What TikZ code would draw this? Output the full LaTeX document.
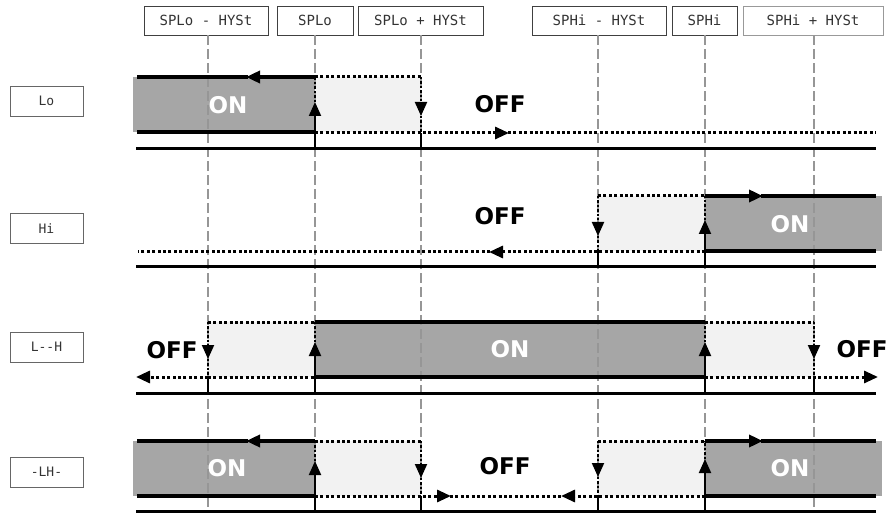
\documentclass[tikz,border=0pt]{standalone}
\usepackage{fontspec}
\newfontfamily\segfont{DejaVu Sans Mono}
\newfontfamily\stfont{DejaVu Sans}
\usetikzlibrary{arrows.meta}
\definecolor{ongray}{RGB}{166,166,166}
\definecolor{offgray}{RGB}{242,242,242}
\definecolor{guidegray}{RGB}{150,150,150}
\tikzset{
  arrtip/.style={-{Triangle[length=14pt,width=12pt]}},
  thickline/.style={line width=3.4pt},
  dotline/.style={line width=3pt, dash pattern=on 3pt off 2.4pt},
  axisline/.style={line width=3pt},
  vline/.style={line width=2pt},
  vdot/.style={line width=2pt, dash pattern=on 2.4pt off 2pt},
  guide/.style={guidegray, line width=1.1pt, dash pattern=on 10pt off 4pt},
  onfill/.style={fill=ongray},
  offfill/.style={fill=offgray},
  hdrbox/.style={draw=black!75, line width=0.9pt, minimum height=29pt, inner sep=0pt, font=\segfont\fontsize{14}{14}\selectfont, text=black!80},
  sidebox/.style={draw=black!60, line width=0.9pt, minimum width=73pt, minimum height=30pt, inner sep=0pt, font=\segfont\fontsize{13}{13}\selectfont, text=black!80},
  ontext/.style={font=\stfont\bfseries\fontsize{23}{23}\selectfont, text=white},
  offtext/.style={font=\stfont\bfseries\fontsize{23}{23}\selectfont, text=black},
}
\begin{document}
\begin{tikzpicture}[x=1pt,y=-1pt]
\useasboundingbox (0,0) rectangle (892,513);
% header boxes
\node[hdrbox, minimum width=124pt] (h1) at (206,20.5) {SPLo - HYSt};
\node[hdrbox, minimum width=76pt] (h2) at (315,20.5) {SPLo};
\node[hdrbox, minimum width=125pt] (h3) at (420.5,20.5) {SPLo + HYSt};
\node[hdrbox, minimum width=134pt] (h4) at (599,20.5) {SPHi - HYSt};
\node[hdrbox, minimum width=65pt] (h5) at (704.5,20.5) {SPHi};
\node[hdrbox, minimum width=140pt, draw=black!40] (h6) at (813,20.5) {SPHi + HYSt};
% side labels
\node[sidebox] (lLo) at (46.5,101) {Lo};
\node[sidebox] (lHi) at (46.5,228.5) {Hi};
\node[sidebox] (lLH) at (46.5,347) {L--H};
\node[sidebox] (lDLH) at (46.5,472) {-LH-};

% ---------- fills ----------
\fill[onfill] (133,77) rectangle (315,132);
\fill[offfill] (315,77) rectangle (421,132);
\fill[offfill] (598,196) rectangle (705,251);
\fill[onfill] (705,196) rectangle (882,251);
\fill[offfill] (208,322) rectangle (315,377);
\fill[onfill] (315,322) rectangle (705,377);
\fill[offfill] (705,322) rectangle (814,377);
\fill[onfill] (133,441) rectangle (315,496);
\fill[offfill] (315,441) rectangle (421,496);
\fill[offfill] (598,441) rectangle (705,496);
\fill[onfill] (705,441) rectangle (882,496);

% ---------- state texts ----------
\node[ontext] (on1) at (228,105) {ON};
\node[offtext] (off1) at (500,104) {OFF};
\node[offtext] (off2) at (500,216) {OFF};
\node[ontext] (on2) at (790,224) {ON};
\node[offtext] (off3a) at (172,350) {OFF};
\node[ontext] (on3) at (510,349) {ON};
\node[offtext] (off3b) at (862,349) {OFF};
\node[ontext] (on4a) at (227,468) {ON};
\node[offtext] (off4) at (505,466) {OFF};
\node[ontext] (on4b) at (790,468) {ON};

% guide lines
\foreach \gx/\hn in {208/h1,315/h2,421/h3,598/h4,705/h5,814/h6}
  \draw[guide] (\hn.south -| \gx,0) -- (\gx,513);

% ---------- Row 1: Lo ----------
\draw[thickline, arrtip] (315,77) -- (246,77);
\draw[thickline] (248,77) -- (137,77);
\draw[dotline] (315,77) -- (421,77);
\draw[thickline] (137,132) -- (315,132);
\draw[dotline, arrtip] (315,133) -- (509,133);
\draw[dotline] (508,133) -- (876,133);
\draw[axisline] (136,149) -- (876,149);
\draw[vline, arrtip] (315,149) -- (315,102);
\draw[vdot] (315,102) -- (315,77);
\draw[vdot, arrtip] (421,77) -- (421,116);
\draw[vdot] (421,116) -- (421,133);
\draw[vline] (421,133) -- (421,149);

% ---------- Row 2: Hi ----------
\draw[dotline] (598,196) -- (705,196);
\draw[thickline, arrtip] (705,196) -- (763,196);
\draw[thickline] (761,196) -- (876,196);
\draw[thickline] (705,251) -- (876,251);
\draw[dotline, arrtip] (705,252) -- (489,252);
\draw[dotline] (490,252) -- (138,252);
\draw[axisline] (136,267) -- (876,267);
\draw[vdot, arrtip] (598,196) -- (598,236);
\draw[vdot] (598,236) -- (598,252);
\draw[vline] (598,252) -- (598,267);
\draw[vline, arrtip] (705,267) -- (705,220);
\draw[vdot] (705,220) -- (705,196);

% ---------- Row 3: L--H ----------
\draw[dotline] (208,322) -- (315,322);
\draw[thickline] (315,322) -- (705,322);
\draw[dotline] (705,322) -- (814,322);
\draw[dotline, arrtip] (208,377) -- (136,377);
\draw[dotline] (208,377) -- (315,377);
\draw[thickline] (315,377) -- (705,377);
\draw[dotline, arrtip] (705,377) -- (878,377);
\draw[axisline] (136,393) -- (876,393);
\draw[vdot, arrtip] (208,322) -- (208,359);
\draw[vdot] (208,359) -- (208,377);
\draw[vline] (208,377) -- (208,393);
\draw[vline, arrtip] (315,393) -- (315,342);
\draw[vdot] (315,342) -- (315,322);
\draw[vline, arrtip] (705,393) -- (705,342);
\draw[vdot] (705,342) -- (705,322);
\draw[vdot, arrtip] (814,322) -- (814,359);
\draw[vdot] (814,359) -- (814,377);
\draw[vline] (814,377) -- (814,393);

% ---------- Row 4: -LH- ----------
\draw[thickline, arrtip] (315,441) -- (246,441);
\draw[thickline] (248,441) -- (137,441);
\draw[dotline] (315,441) -- (421,441);
\draw[dotline] (598,441) -- (705,441);
\draw[thickline, arrtip] (705,441) -- (763,441);
\draw[thickline] (761,441) -- (876,441);
\draw[thickline] (137,496) -- (315,496);
\draw[dotline, arrtip] (315,496) -- (451,496);
\draw[dotline] (450,496) -- (562,496);
\draw[dotline, arrtip] (705,496) -- (561,496);
\draw[thickline] (705,496) -- (876,496);
\draw[axisline] (136,511) -- (876,511);
\draw[vline, arrtip] (315,511) -- (315,461);
\draw[vdot] (315,461) -- (315,441);
\draw[vdot, arrtip] (421,441) -- (421,478);
\draw[vdot] (421,478) -- (421,496);
\draw[vline] (421,496) -- (421,511);
\draw[vdot, arrtip] (598,441) -- (598,477);
\draw[vdot] (598,477) -- (598,496);
\draw[vline] (598,496) -- (598,511);
\draw[vline, arrtip] (705,511) -- (705,459);
\draw[vdot] (705,459) -- (705,441);
\end{tikzpicture}
\end{document}
